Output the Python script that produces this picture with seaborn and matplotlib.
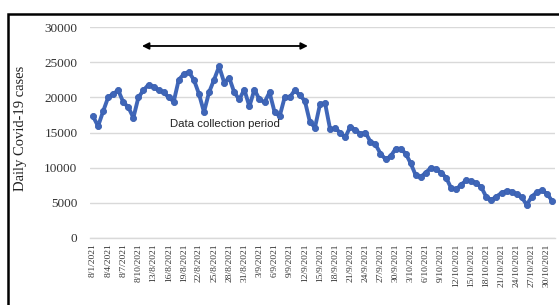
import numpy as np
import pandas as pd
import matplotlib
matplotlib.use("Agg")
import matplotlib.pyplot as plt
import seaborn as sns
from matplotlib.patches import Rectangle

# Daily cases, 1 Aug 2021 .. 31 Oct 2021
cases = [17300, 15900, 18000, 20000, 20500, 21000, 19300, 18600, 17100, 20000,
         21000, 21800, 21500, 21000, 20700, 20000, 19400, 22500, 23300, 23600,
         22500, 20500, 17900, 20700, 22500, 24400, 22100, 22800, 20700, 19700,
         21100, 18700, 21100, 19700, 19300, 20700, 17900, 17300, 20000, 20000,
         21000, 20300, 19500, 16500, 15700, 19000, 19200, 15500, 15600, 15000,
         14300, 15800, 15400, 14800, 15000, 13700, 13300, 12000, 11200, 11600,
         12700, 12700, 12000, 10600, 8900, 8700, 9300, 10000, 9800, 9300,
         8600, 7100, 6900, 7600, 8200, 8100, 7800, 7200, 5800, 5400,
         5900, 6400, 6700, 6600, 6200, 5800, 4700, 5900, 6500, 6800,
         6300, 5300]
tick_labels = ["8/1/2021", "8/4/2021", "8/7/2021", "8/10/2021", "13/8/2021",
               "16/8/2021", "19/8/2021", "22/8/2021", "25/8/2021", "28/8/2021",
               "31/8/2021", "3/9/2021", "6/9/2021", "9/9/2021", "12/9/2021",
               "15/9/2021", "18/9/2021", "21/9/2021", "24/9/2021", "27/9/2021",
               "30/9/2021", "3/10/2021", "6/10/2021", "9/10/2021", "12/10/2021",
               "15/10/2021", "18/10/2021", "21/10/2021", "24/10/2021", "27/10/2021",
               "30/10/2021"]
y_ticks = [0, 5000, 10000, 15000, 20000, 25000, 30000]
period_start, period_end = 9.7, 42.6
arrow_y = 27300
label_text = "Data collection period"

df = pd.DataFrame({"day": np.arange(len(cases)), "cases": cases})

sns.set_theme(style="white")
plt.rcParams["font.family"] = ["Liberation Serif", "DejaVu Serif"]

fig = plt.figure(figsize=(5.59, 3.05), dpi=100)
fig.patch.set_facecolor("white")
fig.patches.append(Rectangle((8 / 559, -0.05), 1.1, 1 - 14 / 305 + 0.05,
                             transform=fig.transFigure, fill=False,
                             edgecolor="black", linewidth=1.8, zorder=0))

ax = fig.add_axes([90 / 559, 1 - 238 / 305, 465 / 559, (238 - 27) / 305])
ax.set_facecolor("none")
sns.lineplot(data=df, x="day", y="cases", ax=ax, color="#3f66b8",
             linewidth=2.8, marker="o", markersize=4.4,
             markeredgecolor="#3a5fb0", markeredgewidth=0.6, zorder=3)

ax.set_ylim(0, 30000)
ax.set_xlim(-0.6, len(cases) - 0.4)
ax.set_yticks(y_ticks)
ax.set_yticklabels([str(v) for v in y_ticks], fontsize=9.5, color="#333333")
ax.set_xticks(np.arange(0, len(cases), 3)[:len(tick_labels)])
ax.set_xticklabels(tick_labels, rotation=90, fontsize=6.8, color="#333333")
ax.tick_params(axis="both", length=0, pad=4)
ax.tick_params(axis="y", pad=9)
ax.grid(axis="y", color="#d9d9d9", linewidth=1.0)
for s in ["top", "right", "left"]:
    ax.spines[s].set_visible(False)
ax.spines["bottom"].set_color("#d9d9d9")
ax.spines["bottom"].set_linewidth(1.0)
ax.set_xlabel("")
ax.set_ylabel("Daily Covid-19 cases", fontsize=10.5, color="#222222")
ax.yaxis.set_label_coords(-0.135, 0.52)

ax.annotate("", xy=(period_start, arrow_y), xytext=(period_end, arrow_y),
            arrowprops=dict(arrowstyle="<|-|>", color="black", lw=1.3,
                            mutation_scale=10, shrinkA=0, shrinkB=0))
ax.text(26.1, 16200, label_text,
        fontsize=8.2, ha="center", va="center", family=["Liberation Sans", "DejaVu Sans"],
        color="#222222", zorder=4)

fig.savefig("out.png", dpi=100, facecolor="white")
